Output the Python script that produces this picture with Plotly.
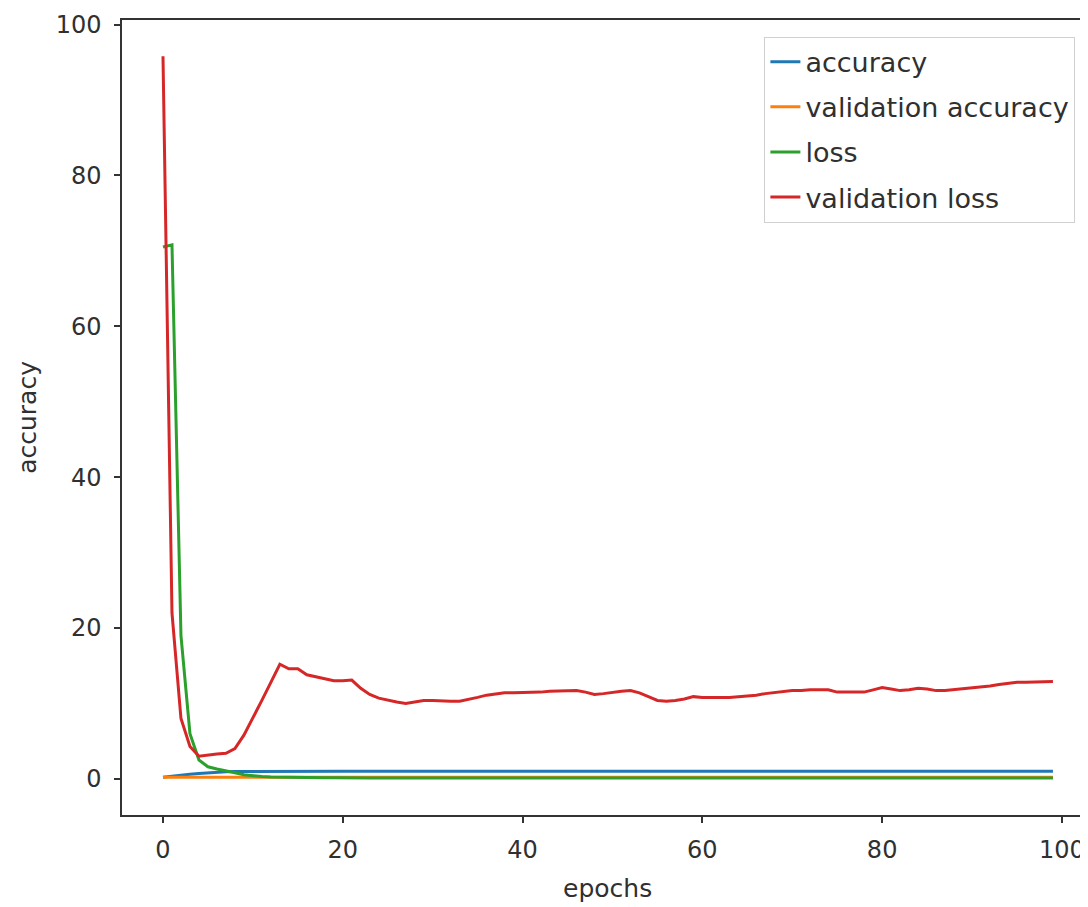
import plotly.graph_objects as go

epochs = list(range(100))

accuracy = [0.2, 0.3, 0.45, 0.6, 0.72, 0.82, 0.9, 0.95, 0.97, 0.98, 0.99] + [1.0] * 89

validation_accuracy = [0.2] * 100

loss = [70.5, 70.8, 19.0, 6.0, 2.5, 1.6, 1.3, 1.1, 0.8, 0.55, 0.4, 0.3, 0.25, 0.22, 0.2,
        0.18, 0.17, 0.16, 0.15, 0.15] + [0.12] * 80

validation_loss = [
    95.8, 22.0, 8.0, 4.3, 3.0, 3.2, 3.3, 3.4, 4.0, 5.8,
    8.0, 10.4, 12.8, 15.2, 14.6, 14.6, 13.8, 13.5, 13.2, 13.0,
    13.0, 13.1, 12.0, 11.2, 10.7, 10.4, 10.2, 10.0, 10.2, 10.4,
    10.4, 10.3, 10.3, 10.3, 10.5, 10.8, 11.1, 11.3, 11.4, 11.4,
    11.4, 11.4, 11.5, 11.6, 11.6, 11.6, 11.7, 11.5, 11.2, 11.3,
    11.5, 11.6, 11.7, 11.4, 10.9, 10.4, 10.3, 10.4, 10.6, 10.9,
    10.8, 10.8, 10.7, 10.8, 10.9, 11.0, 11.1, 11.3, 11.4, 11.5,
    11.7, 11.7, 11.8, 11.8, 11.8, 11.5, 11.5, 11.5, 11.5, 11.8,
    12.1, 11.9, 11.7, 11.8, 12.0, 11.9, 11.7, 11.7, 11.8, 11.9,
    12.0, 12.2, 12.3, 12.5, 12.7, 12.8, 12.8, 12.8, 12.9, 12.9,
]

x_ticks = [0, 20, 40, 60, 80, 100]
y_ticks = [0, 20, 40, 60, 80, 100]

series = [
    ("accuracy", accuracy, "#1f77b4"),
    ("validation accuracy", validation_accuracy, "#ff7f0e"),
    ("loss", loss, "#2ca02c"),
    ("validation loss", validation_loss, "#d62728"),
]

fig = go.Figure()
for i, (name, vals, color) in enumerate(series):
    fig.add_trace(go.Scatter(
        x=epochs, y=vals, mode="lines", name=name,
        line=dict(color=color, width=3),
        legendgroup=f"g{i}",
    ))

font_family = "DejaVu Sans"
text_color = "#303030"

fig.update_layout(
    width=1088, height=907,
    margin=dict(l=114, r=8, t=12, b=100, autoexpand=False),
    paper_bgcolor="white", plot_bgcolor="white",
    font=dict(family=font_family, size=24, color=text_color),
    showlegend=True,
    legend=dict(
        x=0.665, y=0.979, xanchor="left", yanchor="top",
        bgcolor="rgba(255,255,255,0.9)",
        bordercolor="#d0d0d0", borderwidth=1,
        font=dict(family=font_family, size=27, color=text_color),
        tracegroupgap=7,
    ),
    xaxis=dict(
        range=[-4.56, 102.9], automargin=False,
        tickmode="array", tickvals=x_ticks, ticktext=[str(v) for v in x_ticks],
        showgrid=False, zeroline=False,
        showline=True, linecolor="#333333", linewidth=1.5, mirror=True,
        ticks="outside", ticklen=6, tickwidth=1.5, tickcolor="#333333",
        tickfont=dict(size=24), ticklabelstandoff=6,
    ),
    yaxis=dict(
        range=[-4.79, 100.6], automargin=False,
        tickmode="array", tickvals=y_ticks, ticktext=[str(v) for v in y_ticks],
        showgrid=False, zeroline=False,
        showline=True, linecolor="#333333", linewidth=1.5, mirror=False,
        ticks="outside", ticklen=6, tickwidth=1.5, tickcolor="#333333",
        tickfont=dict(size=24), ticklabelstandoff=8,
    ),
    annotations=[
        dict(text="epochs", xref="paper", yref="paper", x=0.503, y=-0.093,
             xanchor="center", yanchor="middle", showarrow=False,
             font=dict(family=font_family, size=25, color=text_color)),
        dict(text="accuracy", xref="paper", yref="paper", x=-0.098, y=0.5,
             xanchor="center", yanchor="middle", showarrow=False, textangle=-90,
             font=dict(family=font_family, size=25, color=text_color)),
    ],
)

fig.write_html("out.html")
